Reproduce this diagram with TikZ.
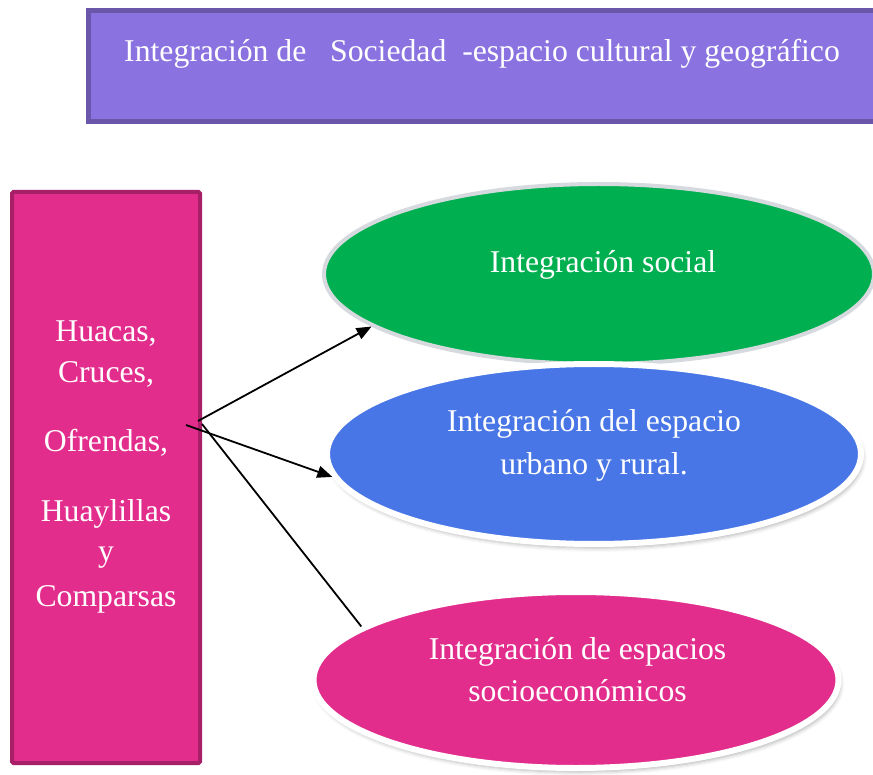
\documentclass[tikz,border=0pt]{standalone}
\usepackage{fontspec}
\setmainfont{Liberation Serif}
\usetikzlibrary{shapes.geometric,arrows.meta,shadows.blur}
\definecolor{topfill}{HTML}{8A73E0}
\definecolor{topline}{HTML}{6A57AA}
\definecolor{pinkfill}{HTML}{E22D8D}
\definecolor{pinkline}{HTML}{A71F66}
\definecolor{greenfill}{HTML}{00B050}
\definecolor{greenline}{HTML}{D6D9DE}
\definecolor{bluefill}{HTML}{4876E6}
\begin{document}
\begin{tikzpicture}[x=1pt,y=-1pt,
  lbl/.style={text=white,font=\fontsize{31.7}{42.5}\selectfont,align=center,anchor=base,inner sep=0pt},
  oval/.style={ellipse,inner sep=0pt},
  softshadow/.style={blur shadow={shadow xshift=2pt,shadow yshift=-4pt,shadow blur radius=4pt,shadow opacity=30}},
  conn/.style={line width=1.8pt,black},
  tip/.style={-{Triangle[length=15pt,width=12pt]}}
]
\useasboundingbox (0,0) rectangle (873,775);
% title box
\node[rectangle,fill=topfill,draw=topline,line width=5pt,minimum width=801pt,minimum height=111pt,inner sep=0pt] (top) at (489,66) {};
\node[lbl] (toptext) at (482,61.7) {Integración de\ \ \ Sociedad\ \ -espacio cultural y geográfico};
% source box
\node[rectangle,fill=pinkfill,draw=pinkline,line width=4pt,rounded corners=1.5pt,minimum width=188pt,minimum height=571pt,inner sep=0pt] (src) at (106,477.5) {};
\node[lbl,font=\fontsize{31.7}{42}\selectfont] (srctext) at (106,606) {Huacas,\\[-1pt]Cruces,\\[27pt]Ofrendas,\\[27.3pt]Huaylillas\\[-1.3pt]y\\[2.3pt]Comparsas};
% ellipses
\node[oval,fill=greenfill,draw=greenline,line width=4pt,minimum width=550pt,minimum height=180pt] (soc) at (599,274) {};
\node[lbl] (soctext) at (603,272.7) {Integración social};
\node[oval,fill=bluefill,draw=white,line width=6pt,minimum width=534pt,minimum height=180pt,softshadow] (urb) at (594,454) {};
\node[lbl] (urbtext) at (594,474) {Integración del espacio\\urbano y rural.};
\node[oval,fill=pinkfill,draw=white,line width=6pt,minimum width=525pt,minimum height=176pt,softshadow] (eco) at (576,680) {};
\node[lbl] (ecotext) at (577.5,701.7) {Integración de espacios\\socioeconómicos};
% connectors
\coordinate (s1) at (198,421);
\coordinate (s2) at (186,425);
\coordinate (s3) at (202,424);
\draw[conn,tip] (s1) -- (soc.193);
\draw[conn,tip] (s2) -- (urb.185);
\draw[conn] (s3) -- (eco.166);
\end{tikzpicture}
\end{document}
